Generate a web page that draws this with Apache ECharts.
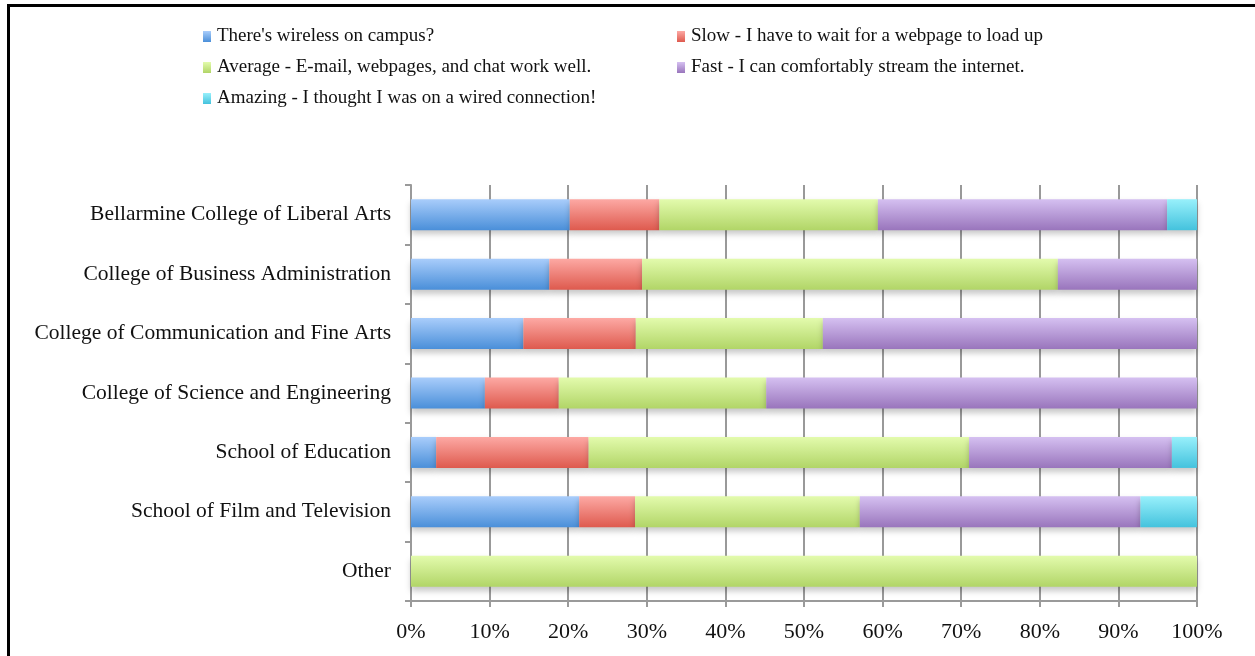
<!DOCTYPE html>
<html><head><meta charset="utf-8">
<script src="https://cdn.jsdelivr.net/npm/echarts@6/dist/echarts.min.js"></script>
<style>
html,body{margin:0;padding:0;background:#fff;overflow:hidden;}
#c{position:absolute;left:0;top:0;width:1255px;height:656px;}
#frame{position:absolute;left:7px;top:4px;width:1300px;height:700px;border-left:3px solid #000;border-top:3px solid #000;pointer-events:none;}
</style></head>
<body>
<div id="c"></div>
<div id="frame"></div>
<script>
const categories = [
  "Bellarmine College of Liberal Arts",
  "College of Business Administration",
  "College of Communication and Fine Arts",
  "College of Science and Engineering",
  "School of Education",
  "School of Film and Television",
  "Other"
];
const seriesNames = [
  "There's wireless on campus?",
  "Slow - I have to wait for a webpage to load up",
  "Average - E-mail, webpages, and chat work well.",
  "Fast - I can comfortably stream the internet.",
  "Amazing - I thought I was on a wired connection!"
];
const wirelessVals = [20.2, 17.6, 14.3, 9.4, 3.2, 21.4, 0];
const slowVals     = [11.4, 11.8, 14.3, 9.4, 19.4, 7.1, 0];
const averageVals  = [27.8, 52.9, 23.8, 26.4, 48.4, 28.6, 100];
const fastVals     = [36.8, 17.7, 47.6, 54.8, 25.8, 35.7, 0];
const amazingVals  = [3.8, 0, 0, 0, 3.2, 7.2, 0];
const xTicks = [0, 10, 20, 30, 40, 50, 60, 70, 80, 90, 100];

const palette = [
  ['#a9cdfb', '#4a8fd9'],
  ['#fda9a4', '#de5a4e'],
  ['#e3fbad', '#b1d567'],
  ['#d5c0f1', '#9975bc'],
  ['#98f0fb', '#44c2dd']
];
function grad(p){
  return new echarts.graphic.LinearGradient(0,0,0,1,[{offset:0,color:p[0]},{offset:1,color:p[1]}]);
}
const allVals = [wirelessVals, slowVals, averageVals, fastVals, amazingVals];
const series = seriesNames.map((n,i)=>({
  name:n, type:'bar', stack:'s', barWidth:31,
  data: allVals[i],
  itemStyle:{color:grad(palette[i]), shadowColor:'rgba(0,0,0,0.22)', shadowBlur:6, shadowOffsetY:4},
  emphasis:{disabled:true}
}));
const legendPos = [
  {left:203, top:27},
  {left:677, top:27},
  {left:203, top:58},
  {left:677, top:58},
  {left:203, top:89}
];
const legends = seriesNames.map((n,i)=>({
  data:[{name:n, itemStyle:{color:grad(palette[i])}}],
  left:legendPos[i].left, top:legendPos[i].top, padding:0,
  icon:'rect', itemWidth:8, itemHeight:11, itemGap:5,
  textStyle:{fontFamily:'Liberation Serif', fontSize:19, color:'#111', padding:[0,0,0,1]},
  selectedMode:false
}));
const chart = echarts.init(document.getElementById('c'));
chart.setOption({
  animation:false,
  backgroundColor:'#fff',
  legend: legends,
  grid:{left:411, right:58, top:185, bottom:55, containLabel:false},
  xAxis:{
    type:'value', min:0, max:100, interval:10,
    axisLine:{show:true, lineStyle:{color:'#9a9a9a', width:2}},
    axisTick:{show:true, length:6, lineStyle:{color:'#9a9a9a', width:2}},
    splitLine:{show:true, lineStyle:{color:'#999', width:2}},
    axisLabel:{formatter:'{value}%', fontFamily:'Liberation Serif', fontSize:22, color:'#111', margin:20}
  },
  yAxis:{
    type:'category', data:categories, inverse:true,
    axisLine:{show:true, lineStyle:{color:'#9a9a9a', width:2}},
    axisTick:{show:true, length:6, lineStyle:{color:'#9a9a9a', width:2}},
    axisLabel:{fontFamily:'Liberation Serif', fontSize:21.5, color:'#111', margin:20}
  },
  series: series
});
</script>
</body></html>
